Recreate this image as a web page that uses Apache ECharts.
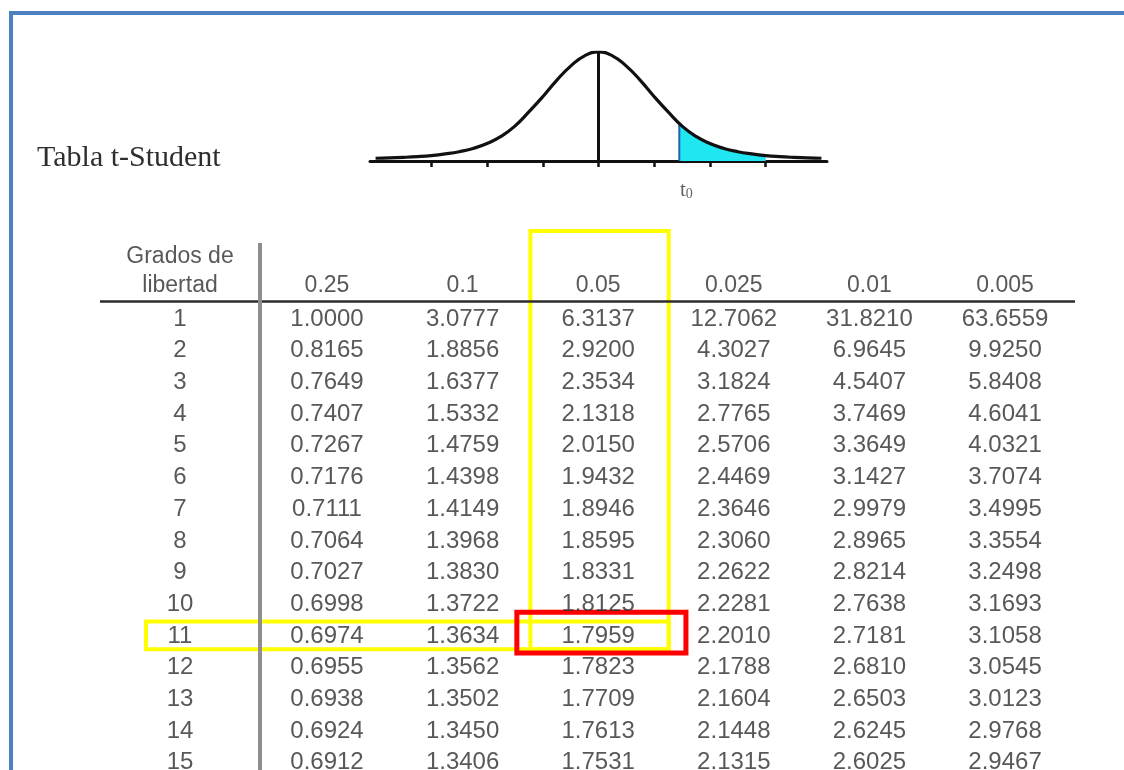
<!DOCTYPE html>
<html>
<head>
<meta charset="utf-8">
<title>Tabla t-Student</title>
<script src="https://cdn.jsdelivr.net/npm/echarts@6/dist/echarts.min.js"></script>
<style>
  html, body { margin: 0; padding: 0; background: #fff; }
  #chart { width: 1124px; height: 770px; }
</style>
</head>
<body>
<div id="chart"></div>
<script>
// --- data ---
const title = 'Tabla t-Student';
const dfHeader = ['Grados de', 'libertad'];
const alphas = ['0.25', '0.1', '0.05', '0.025', '0.01', '0.005'];
const degrees = [1, 2, 3, 4, 5, 6, 7, 8, 9, 10, 11, 12, 13, 14, 15];

const col025 = [1.0000, 0.8165, 0.7649, 0.7407, 0.7267, 0.7176, 0.7111, 0.7064, 0.7027, 0.6998, 0.6974, 0.6955, 0.6938, 0.6924, 0.6912];
const col010 = [3.0777, 1.8856, 1.6377, 1.5332, 1.4759, 1.4398, 1.4149, 1.3968, 1.3830, 1.3722, 1.3634, 1.3562, 1.3502, 1.3450, 1.3406];
const col005 = [6.3137, 2.9200, 2.3534, 2.1318, 2.0150, 1.9432, 1.8946, 1.8595, 1.8331, 1.8125, 1.7959, 1.7823, 1.7709, 1.7613, 1.7531];
const col0025 = [12.7062, 4.3027, 3.1824, 2.7765, 2.5706, 2.4469, 2.3646, 2.3060, 2.2622, 2.2281, 2.2010, 2.1788, 2.1604, 2.1448, 2.1315];
const col001 = [31.8210, 6.9645, 4.5407, 3.7469, 3.3649, 3.1427, 2.9979, 2.8965, 2.8214, 2.7638, 2.7181, 2.6810, 2.6503, 2.6245, 2.6025];
const col0005 = [63.6559, 9.9250, 5.8408, 4.6041, 4.0321, 3.7074, 3.4995, 3.3554, 3.2498, 3.1693, 3.1058, 3.0545, 3.0123, 2.9768, 2.9467];

// density curve (peak = 1)
const curveT = [-4, -3.75, -3.5, -3.25, -3, -2.75, -2.5, -2.25, -2, -1.75, -1.5, -1.25, -1, -0.75, -0.5, -0.25, 0,
  0.25, 0.5, 0.75, 1, 1.25, 1.5, 1.75, 2, 2.25, 2.5, 2.75, 3, 3.25, 3.5, 3.75, 4];
const curveY = [0.025, 0.028, 0.033, 0.04, 0.05, 0.065, 0.085, 0.115, 0.16, 0.225, 0.32, 0.45, 0.59, 0.74, 0.87, 0.965, 1,
  0.965, 0.87, 0.74, 0.59, 0.45, 0.32, 0.225, 0.16, 0.115, 0.085, 0.065, 0.05, 0.04, 0.033, 0.028, 0.025];
const curveTicks = [-3, -2, -1, 0, 1, 2, 3];
const t0 = 1.45;
const t0Density = 0.34;
const shadeEnd = 3;

// highlighted cell: row df = 11, column alpha = 0.05
const hlRow = 11;
const hlCol = 3;

// --- layout (table coords: column index 1..6, row = df) ---
const DF_X = -0.084;
const HEADER_ROW = -0.04;
const TOP_HEADER_ROW = -0.96;
const RULE_ROW = 0.43;
const DIVIDER_X = 0.506;
const FONT = '"Liberation Sans", Arial, sans-serif';
const SERIF = '"Liberation Serif", "Times New Roman", serif';

const columns = [col025, col010, col005, col0025, col001, col0005];
const cells = [];
columns.forEach((col, c) => {
  col.forEach((v, r) => cells.push([c + 1, degrees[r], v.toFixed(4)]));
});

const curveData = curveT.map((t, i) => [t, curveY[i]]);
const shadeData = [[t0, t0Density]].concat(
  curveData.filter(d => d[0] > t0 && d[0] <= shadeEnd)
);

const textLabel = {
  show: true,
  position: 'inside',
  fontFamily: FONT,
  fontSize: 24,
  color: '#2e2e2e',
  formatter: p => p.value[2]
};

const chart = echarts.init(document.getElementById('chart'));

chart.setOption({
  animation: false,
  backgroundColor: '#ffffff',
  title: {
    text: title,
    left: 32,
    top: 138,
    textStyle: { fontFamily: SERIF, fontSize: 30, fontWeight: 'normal', color: '#2e2e2e' }
  },
  graphic: [{
    type: 'rect',
    shape: { x: 11, y: 13, width: 1300, height: 900 },
    style: { fill: null, stroke: '#4d80bf', lineWidth: 4 },
    silent: true
  }],
  grid: [
    { left: 370, width: 457, top: 52, bottom: 609 },
    { left: 100, right: 49, top: 225, bottom: 0 }
  ],
  xAxis: [
    {
      gridIndex: 0, type: 'value', min: -4.1, max: 4.1,
      axisLine: { show: true, onZero: false, lineStyle: { color: '#111', width: 3 } },
      axisTick: { show: true, customValues: curveTicks, length: 6, lineStyle: { color: '#111', width: 2.5 } },
      axisLabel: { show: false },
      splitLine: { show: false }
    },
    { gridIndex: 1, type: 'value', min: -0.674, max: 6.516, show: false }
  ],
  yAxis: [
    { gridIndex: 0, type: 'value', min: 0, max: 1, show: false },
    { gridIndex: 1, type: 'value', min: -1.97, max: 15.23, inverse: true, show: false }
  ],
  series: [
    {
      name: 'tail', type: 'line', xAxisIndex: 0, yAxisIndex: 0,
      data: shadeData, smooth: true, symbol: 'none', z: 1,
      lineStyle: { width: 0 },
      areaStyle: { color: '#1fe6f0', opacity: 1 }
    },
    {
      name: 't0 edge', type: 'line', xAxisIndex: 0, yAxisIndex: 0,
      data: [[t0, 0], [t0, t0Density]], symbol: 'none', z: 2,
      lineStyle: { color: '#1d63ad', width: 2 }
    },
    {
      name: 'density', type: 'line', xAxisIndex: 0, yAxisIndex: 0,
      data: curveData, smooth: true, symbol: 'none', z: 3,
      lineStyle: { color: '#111', width: 3.2 },
      markLine: {
        silent: true, symbol: ['none', 'none'], label: { show: false },
        lineStyle: { color: '#111', width: 3, type: 'solid' },
        data: [[{ coord: [0, 0] }, { coord: [0, 1] }]]
      }
    },
    {
      name: 't0 label', type: 'scatter', xAxisIndex: 0, yAxisIndex: 0,
      data: [[t0, 0]], symbolSize: 1, itemStyle: { color: 'transparent' },
      label: {
        show: true, position: 'bottom', distance: 17, offset: [7, 0],
        formatter: '{t|t}{s|0}',
        rich: {
          t: { fontFamily: SERIF, fontSize: 21, color: '#3a3a3a' },
          s: { fontFamily: SERIF, fontSize: 14, color: '#3a3a3a', padding: [9, 0, 0, 0] }
        }
      }
    },
    {
      name: 'frame', type: 'scatter', xAxisIndex: 1, yAxisIndex: 1,
      data: [], silent: true,
      markLine: {
        silent: true, symbol: ['none', 'none'], label: { show: false },
        data: [
          { yAxis: RULE_ROW, lineStyle: { color: '#2b2b2b', width: 2.5, type: 'solid' } },
          [
            { coord: [DIVIDER_X, -1.4], lineStyle: { color: '#8e8e8e', width: 4, type: 'solid' } },
            { coord: [DIVIDER_X, 15.23] }
          ]
        ]
      }
    },
    {
      name: 'headers', type: 'scatter', xAxisIndex: 1, yAxisIndex: 1,
      symbolSize: 1, itemStyle: { color: 'transparent' },
      data: alphas.map((a, i) => [i + 1, HEADER_ROW, a])
        .concat([[DF_X, TOP_HEADER_ROW, dfHeader[0]], [DF_X, HEADER_ROW, dfHeader[1]]]),
      label: Object.assign({}, textLabel, { fontSize: 23 })
    },
    {
      name: 'df', type: 'scatter', xAxisIndex: 1, yAxisIndex: 1,
      symbolSize: 1, itemStyle: { color: 'transparent' },
      data: degrees.map(d => [DF_X, d, String(d)]),
      label: textLabel
    },
    {
      name: 'values', type: 'scatter', xAxisIndex: 1, yAxisIndex: 1,
      symbolSize: 1, itemStyle: { color: 'transparent' },
      data: cells,
      label: textLabel
    },
    {
      name: 'highlight', type: 'scatter', xAxisIndex: 1, yAxisIndex: 1,
      data: [], silent: true, z: 5,
      markArea: {
        silent: true,
        data: [
          [
            { xAxis: hlCol - 0.5, yAxis: -1.78, itemStyle: { color: 'rgba(0,0,0,0)', borderColor: '#ffff00', borderWidth: 4 } },
            { xAxis: hlCol + 0.52, yAxis: hlRow + 0.42 }
          ],
          [
            { xAxis: -0.335, yAxis: hlRow - 0.46, itemStyle: { color: 'rgba(0,0,0,0)', borderColor: '#ffff00', borderWidth: 4 } },
            { xAxis: hlCol + 0.52, yAxis: hlRow + 0.42 }
          ]
        ]
      }
    },
    {
      name: 'selected', type: 'scatter', xAxisIndex: 1, yAxisIndex: 1,
      data: [], silent: true, z: 6,
      markArea: {
        silent: true,
        data: [[
          { xAxis: hlCol - 0.6, yAxis: hlRow - 0.75, itemStyle: { color: 'rgba(0,0,0,0)', borderColor: '#ff0000', borderWidth: 5 } },
          { xAxis: hlCol + 0.647, yAxis: hlRow + 0.54 }
        ]]
      }
    }
  ]
});
</script>
</body>
</html>
